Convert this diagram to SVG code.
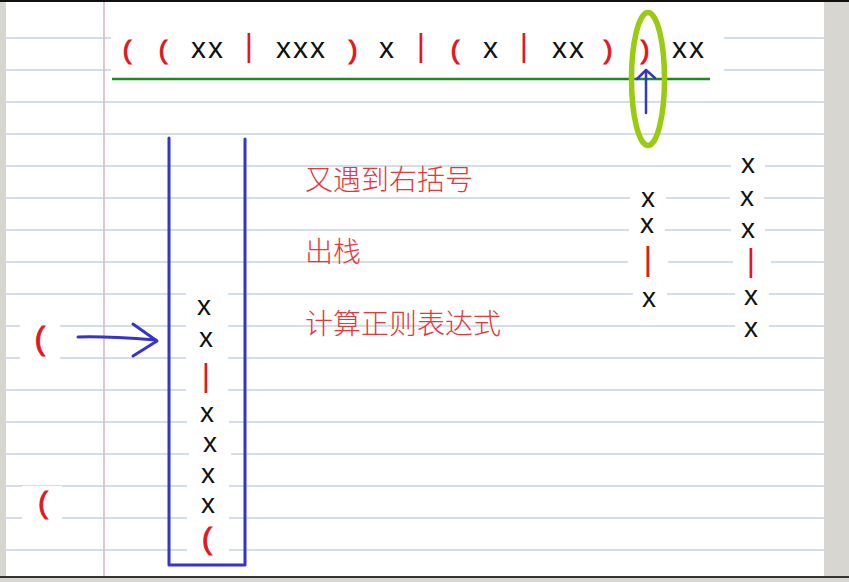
<svg xmlns="http://www.w3.org/2000/svg" width="849" height="582" viewBox="0 0 849 582">
<defs>
<style>
.rule{stroke:#a9bdd3;stroke-width:1}
.x{font-family:"Liberation Sans",Arial,sans-serif;font-size:28px;fill:#111;text-anchor:middle}
.xt{font-family:"Liberation Sans",Arial,sans-serif;font-size:30px;fill:#111;letter-spacing:2px}
.p{font-family:"Liberation Sans",Arial,sans-serif;fill:#e3161e;text-anchor:middle}
.b{stroke:#e3161e;stroke-width:1.1px}
.cn{font-family:"Noto Sans CJK SC","Noto Sans",sans-serif;font-size:28px;font-weight:300;fill:#e8353a}
.blue{stroke:#3535c8;fill:none;stroke-linecap:round;stroke-linejoin:round}
.wb{fill:#ffffff}
</style>
</defs>
<g id="page">
<rect x="0" y="0" width="849" height="582" fill="#ffffff"/>
<g id="rules">
<line class="rule" x1="5" y1="38" x2="824" y2="38"/>
<line class="rule" x1="5" y1="70" x2="824" y2="70"/>
<line class="rule" x1="5" y1="102" x2="824" y2="102"/>
<line class="rule" x1="5" y1="134" x2="824" y2="134"/>
<line class="rule" x1="5" y1="166" x2="824" y2="166"/>
<line class="rule" x1="5" y1="198" x2="824" y2="198"/>
<line class="rule" x1="5" y1="230" x2="824" y2="230"/>
<line class="rule" x1="5" y1="262" x2="824" y2="262"/>
<line class="rule" x1="5" y1="294" x2="824" y2="294"/>
<line class="rule" x1="5" y1="326" x2="824" y2="326"/>
<line class="rule" x1="5" y1="358" x2="824" y2="358"/>
<line class="rule" x1="5" y1="390" x2="824" y2="390"/>
<line class="rule" x1="5" y1="422" x2="824" y2="422"/>
<line class="rule" x1="5" y1="454" x2="824" y2="454"/>
<line class="rule" x1="5" y1="486" x2="824" y2="486"/>
<line class="rule" x1="5" y1="518" x2="824" y2="518"/>
<line class="rule" x1="5" y1="550" x2="824" y2="550"/>
</g>
<line x1="104" y1="2" x2="104" y2="577" stroke="#dcb0c8" stroke-width="1.5"/>
<rect x="0" y="0" width="6" height="582" fill="#d8d6d1"/>
<rect x="824" y="0" width="25" height="582" fill="#d8d6d1"/>
<rect x="0" y="0" width="849" height="2" fill="#111"/>
<rect x="0" y="576" width="849" height="2" fill="#333"/>
<rect x="0" y="578" width="849" height="4" fill="#d8d6d1"/>
</g>
<g id="expression">
<rect class="wb" x="111" y="23" width="613" height="53"/>
<text class="p b" x="127" y="58.5" font-size="26">(</text>
<text class="p b" x="163" y="58.5" font-size="26">(</text>
<text class="xt" x="191" y="58">xx</text>
<text class="p" x="249" y="56.3" font-size="32">|</text>
<text class="xt" x="276" y="58">xxx</text>
<text class="p b" x="353" y="58.5" font-size="26">)</text>
<text class="xt" x="379" y="58">x</text>
<text class="p" x="421" y="56.3" font-size="32">|</text>
<text class="p b" x="455" y="58.5" font-size="26">(</text>
<text class="xt" x="483" y="58">x</text>
<text class="p" x="524" y="56.3" font-size="32">|</text>
<text class="xt" x="552" y="58">xx</text>
<text class="p b" x="608" y="58.5" font-size="26">)</text>
<text class="p b" x="645" y="58.5" font-size="26">)</text>
<text class="xt" x="672" y="58">xx</text>
<line x1="112" y1="79" x2="710" y2="79" stroke="#1f8a1f" stroke-width="2.5"/>
</g>
<g id="stack">
<g class="wb">
<rect x="186" y="292" width="42" height="28"/>
<rect x="186" y="324" width="42" height="28"/>
<rect x="186" y="357" width="42" height="40"/>
<rect x="187" y="401" width="42" height="26"/>
<rect x="189" y="432" width="42" height="26"/>
<rect x="187" y="463" width="42" height="26"/>
<rect x="187" y="494" width="42" height="26"/>
<rect x="187" y="524" width="42" height="36"/>
</g>
<text class="x" x="204" y="315">x</text>
<text class="x" x="206" y="347">x</text>
<text class="p" x="206" y="386" font-size="32">|</text>
<text class="x" x="207" y="422">x</text>
<text class="x" x="210" y="452">x</text>
<text class="x" x="208" y="483">x</text>
<text class="x" x="208" y="513">x</text>
<text class="p b" x="207" y="549" font-size="30">(</text>
<path class="blue" d="M169,138 V565 H245 V139" stroke-width="3"/>
</g>
<g id="incoming">
<rect class="wb" x="20" y="320" width="40" height="42"/>
<text class="p b" x="40" y="349" font-size="31">(</text>
<rect class="wb" x="22" y="486" width="40" height="38"/>
<text class="p b" x="43" y="513" font-size="29">(</text>
</g>
<g id="notes">
<text class="cn" x="305" y="190">又遇到右括号</text>
<text class="cn" x="305" y="262">出栈</text>
<text class="cn" x="305" y="334">计算正则表达式</text>
</g>
<g id="result1">
<g class="wb">
<rect x="630" y="186" width="36" height="26"/>
<rect x="629" y="213" width="36" height="26"/>
<rect x="628" y="242" width="40" height="40"/>
<rect x="633" y="287" width="34" height="26"/>
</g>
<text class="x" x="648" y="207" font-size="27">x</text>
<text class="x" x="647" y="233" font-size="27">x</text>
<text class="p" x="648" y="270" font-size="34">|</text>
<text class="x" x="649" y="307">x</text>
</g>
<g id="result2">
<g class="wb">
<rect x="731" y="154" width="34" height="24"/>
<rect x="730" y="185" width="34" height="26"/>
<rect x="731" y="218" width="34" height="26"/>
<rect x="733" y="245" width="38" height="38"/>
<rect x="735" y="285" width="34" height="26"/>
<rect x="735" y="317" width="34" height="26"/>
</g>
<text class="x" x="748" y="173">x</text>
<text class="x" x="747" y="206">x</text>
<text class="x" x="748" y="238">x</text>
<text class="p" x="751" y="271.3" font-size="32">|</text>
<text class="x" x="751" y="305">x</text>
<text class="x" x="751" y="337">x</text>
</g>
<g id="connectors">
<path class="blue" d="M78,337 C100,336 130,338 156,340" stroke-width="3"/>
<polyline class="blue" points="133,324 157,341 133,356" stroke-width="3"/>
<line class="blue" x1="646" y1="113" x2="646" y2="71" stroke-width="2.5"/>
<polyline class="blue" points="637,79 646,70 655,78" stroke-width="2.5"/>
</g>
<g id="highlight">
<ellipse cx="648" cy="79" rx="16.5" ry="66.5" fill="none" stroke="#99cc11" stroke-width="5.5"/>
</g>
</svg>
